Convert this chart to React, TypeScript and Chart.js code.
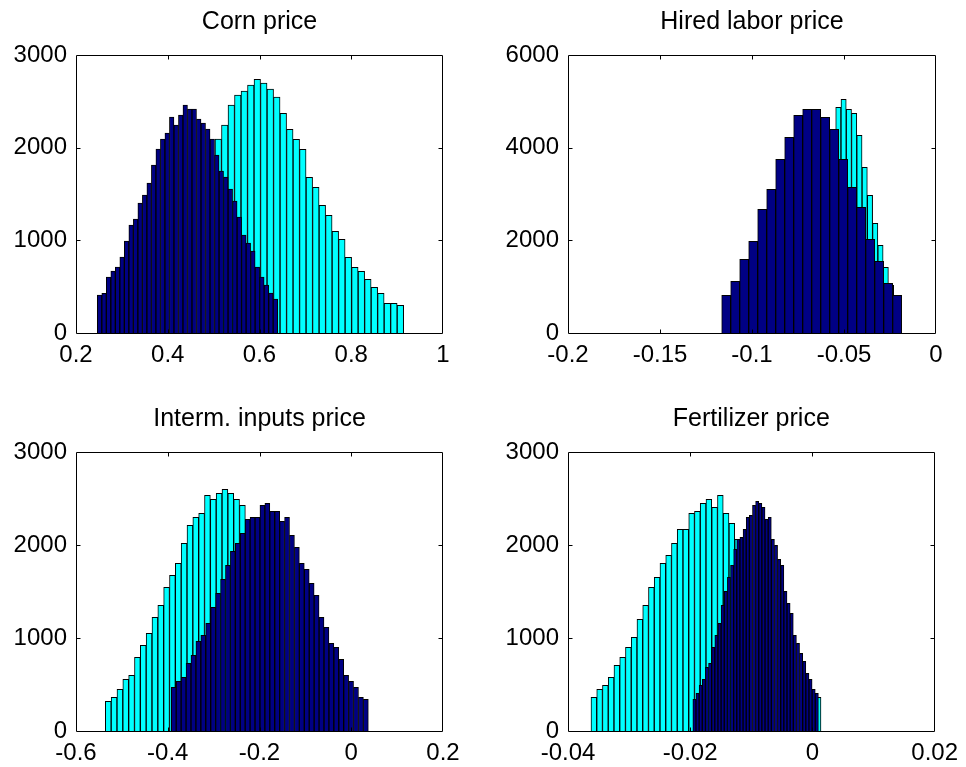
import React, { useEffect, useRef } from 'react';
import { Chart, registerables } from 'chart.js';

Chart.register(...registerables);

// ---------------- data (histogram bin counts) ----------------
const NAVY = '#000084';
const CYAN = '#00FFFF';

// Corn price
const cornXTicks = [0.2, 0.4, 0.6, 0.8, 1];
const cornYTicks = [0, 1000, 2000, 3000];
const cornNavyStart = 0.2464;
const cornNavyBin = 0.00983;
const cornNavyCounts = [410, 428, 604, 669, 712, 820, 993, 1165, 1230, 1403, 1489, 1619, 1813, 1986, 2094, 2158, 2331, 2245, 2352, 2460, 2417, 2417, 2309, 2266, 2201, 2094, 1921, 1748, 1683, 1554, 1424, 1252, 1058, 971, 885, 712, 604, 518, 432, 367];
const cornCyanStart = 0.503;
const cornCyanBin = 0.01418;
const cornCyanCounts = [2093, 2245, 2460, 2568, 2611, 2676, 2737, 2696, 2631, 2545, 2370, 2198, 2090, 1982, 1680, 1572, 1378, 1270, 1097, 1011, 816, 709, 665, 579, 493, 428, 320, 320, 299];

// Hired labor price
const laborXTicks = [-0.2, -0.15, -0.1, -0.05, 0];
const laborYTicks = [0, 2000, 4000, 6000];
const laborNavyStart = -0.11647;
const laborNavyBin = 0.00489;
const laborNavyCounts = [813, 1115, 1590, 1978, 2669, 3101, 3748, 4223, 4698, 4827, 4827, 4655, 4396, 3748, 3144, 2712, 2021, 1547, 1072, 813];
const laborCyanStart = -0.05451;
const laborCyanBin = 0.002864;
const laborCyanCounts = [4870, 5043, 4827, 4741, 4266, 3575, 2971, 2367, 1892, 1417, 1029];

// Interm. inputs price
const intermXTicks = [-0.6, -0.4, -0.2, 0, 0.2];
const intermYTicks = [0, 1000, 2000, 3000];
const intermNavyStart = -0.3923;
const intermNavyBin = 0.010738;
const intermNavyCounts = [470, 534, 577, 728, 814, 964, 1029, 1158, 1330, 1480, 1631, 1781, 1932, 2018, 2125, 2276, 2297, 2297, 2426, 2448, 2362, 2362, 2254, 2297, 2104, 1975, 1803, 1738, 1588, 1459, 1222, 1115, 943, 900, 771, 599, 534, 470, 362, 340];
const intermCyanStart = -0.5361;
const intermCyanBin = 0.01272;
const intermCyanCounts = [319, 362, 448, 556, 599, 792, 921, 1050, 1222, 1351, 1545, 1674, 1803, 2018, 2211, 2297, 2340, 2534, 2491, 2555, 2598, 2555, 2491, 2426];

// Fertilizer price
const fertXTicks = [-0.04, -0.02, 0, 0.02];
const fertYTicks = [0, 1000, 2000, 3000];
const fertNavyStart = -0.019569;
const fertNavyBin = 0.0005136;
const fertNavyCounts = [340, 405, 491, 556, 685, 728, 900, 1029, 1158, 1351, 1502, 1652, 1781, 1953, 2061, 2082, 2168, 2297, 2319, 2426, 2469, 2448, 2405, 2276, 2297, 2061, 1996, 1846, 1781, 1502, 1373, 1265, 1029, 943, 835, 749, 620, 556, 448, 405];
const fertCyanStart = -0.03624;
const fertCyanBin = 0.000941;
const fertCyanCounts = [362, 448, 491, 577, 706, 792, 900, 1007, 1201, 1351, 1545, 1652, 1803, 1889, 2018, 2168, 2168, 2340, 2362, 2448, 2491, 2405, 2534, 2340, 2233, 2061, null, null, null, null, null, null, null, null, null, null, null, null, null, 362];

// ---------------- layout ----------------
const FONT = "'Liberation Sans', Arial, Helvetica, sans-serif";
const Y_AXIS_W = 76;
const PAD_R = 30;
const TITLE_H = 55;
const X_AXIS_H = 42;

type Pt = { x: number; y: number | null };
const toBins = (start: number, width: number, counts: (number | null)[]): Pt[] =>
  counts.map((c, i) => ({ x: start + (i + 0.5) * width, y: c }));

type Panel = {
  title: string;
  xTicks: number[];
  yTicks: number[];
  navy: Pt[];
  cyan: Pt[];
  box: { left: number; top: number; right: number; bottom: number };
};

const panels: Panel[] = [
  { title: 'Corn price', xTicks: cornXTicks, yTicks: cornYTicks,
    navy: toBins(cornNavyStart, cornNavyBin, cornNavyCounts), cyan: toBins(cornCyanStart, cornCyanBin, cornCyanCounts),
    box: { left: 76, top: 55, right: 443, bottom: 333 } },
  { title: 'Hired labor price', xTicks: laborXTicks, yTicks: laborYTicks,
    navy: toBins(laborNavyStart, laborNavyBin, laborNavyCounts), cyan: toBins(laborCyanStart, laborCyanBin, laborCyanCounts),
    box: { left: 568, top: 55, right: 936, bottom: 333 } },
  { title: 'Interm. inputs price', xTicks: intermXTicks, yTicks: intermYTicks,
    navy: toBins(intermNavyStart, intermNavyBin, intermNavyCounts), cyan: toBins(intermCyanStart, intermCyanBin, intermCyanCounts),
    box: { left: 76, top: 452, right: 443, bottom: 731 } },
  { title: 'Fertilizer price', xTicks: fertXTicks, yTicks: fertYTicks,
    navy: toBins(fertNavyStart, fertNavyBin, fertNavyCounts), cyan: toBins(fertCyanStart, fertCyanBin, fertCyanCounts),
    box: { left: 568, top: 452, right: 936, bottom: 731 } },
];

const framePlugin = {
  id: 'matlabFrame',
  afterDatasetsDraw(chart: any) {
    const { ctx, chartArea: a, scales } = chart;
    const l = Math.round(a.left) + 0.5;
    const r = Math.round(a.right) - 0.5;
    const t = Math.round(a.top) + 0.5;
    const b = Math.round(a.bottom) + 0.5;
    const TL = 4;
    ctx.save();
    ctx.strokeStyle = '#000';
    ctx.lineWidth = 1;
    ctx.beginPath();
    for (const tk of scales.x.ticks) {
      const px = Math.round(scales.x.getPixelForValue(tk.value)) + 0.5;
      if (px <= l + 1 || px >= r - 1) continue;
      ctx.moveTo(px, b); ctx.lineTo(px, b - TL);
      ctx.moveTo(px, t); ctx.lineTo(px, t + TL);
    }
    for (const tk of scales.y.ticks) {
      const py = Math.round(scales.y.getPixelForValue(tk.value)) + 0.5;
      if (py <= t + 1 || py >= b - 1) continue;
      ctx.moveTo(l, py); ctx.lineTo(l + TL, py);
      ctx.moveTo(r, py); ctx.lineTo(r - TL, py);
    }
    ctx.rect(l, t, r - l, b - t);
    ctx.stroke();
    ctx.restore();
  },
};

function PanelChart({ p }: { p: Panel }) {
  const ref = useRef<HTMLCanvasElement | null>(null);
  useEffect(() => {
    if (!ref.current) return;
    const xMin = p.xTicks[0];
    const xMax = p.xTicks[p.xTicks.length - 1];
    const yMax = p.yTicks[p.yTicks.length - 1];
    const barCommon = {
      borderColor: '#000',
      borderWidth: 1,
      barPercentage: 1,
      categoryPercentage: 1,
      grouped: false,
    };
    const chart = new Chart(ref.current, {
      type: 'bar',
      data: {
        datasets: [
          { ...barCommon, label: 'navy', data: p.navy as any, xAxisID: 'x', yAxisID: 'y', backgroundColor: NAVY },
          { ...barCommon, label: 'cyan', data: p.cyan as any, xAxisID: 'x2', yAxisID: 'y', backgroundColor: CYAN },
        ],
      },
      options: {
        animation: false,
        responsive: true,
        maintainAspectRatio: false,
        layout: { padding: { left: 0, right: PAD_R, top: 0, bottom: 0 } },
        plugins: {
          legend: { display: false },
          tooltip: { enabled: false },
          title: {
            display: true,
            text: p.title,
            fullSize: false,
            color: '#000',
            font: { family: FONT, size: 25, weight: 'normal' as any, lineHeight: 1.2 },
            padding: { top: 7, bottom: TITLE_H - 7 - 30 },
          },
        },
        scales: {
          x: {
            type: 'linear',
            position: 'bottom',
            offset: false,
            min: xMin,
            max: xMax,
            grid: { display: false, drawTicks: false, offset: false },
            border: { display: false },
            afterBuildTicks: (s: any) => { s.ticks = p.xTicks.map((v) => ({ value: v })); },
            afterFit: (s: any) => { s.height = X_AXIS_H; },
            ticks: {
              color: '#000',
              font: { family: FONT, size: 24 },
              padding: 8,
              maxRotation: 0,
              autoSkip: false,
              callback: (v: any) => String(v),
            },
          },
          x2: { type: 'linear', position: 'bottom', offset: false, min: xMin, max: xMax, display: false, grid: { offset: false } },
          y: {
            type: 'linear',
            min: 0,
            max: yMax,
            grid: { display: false, drawTicks: false },
            border: { display: false },
            afterBuildTicks: (s: any) => { s.ticks = p.yTicks.map((v) => ({ value: v })); },
            afterFit: (s: any) => { s.width = Y_AXIS_W; },
            ticks: {
              color: '#000',
              font: { family: FONT, size: 24 },
              padding: 9,
              autoSkip: false,
              callback: (v: any) => String(v),
            },
          },
        },
      } as any,
      plugins: [framePlugin],
    });
    return () => chart.destroy();
  }, [p]);

  const left = p.box.left - Y_AXIS_W;
  const top = p.box.top - TITLE_H;
  const width = Y_AXIS_W + (p.box.right - p.box.left) + PAD_R;
  const height = TITLE_H + (p.box.bottom - p.box.top) + X_AXIS_H;
  return (
    <div style={{ position: 'absolute', left, top, width, height }}>
      <canvas ref={ref} style={{ display: 'block' }} />
    </div>
  );
}

export default function App() {
  return (
    <div style={{ position: 'absolute', left: 0, top: 0, width: 966, height: 767, overflow: 'hidden', background: '#fff' }}>
      {panels.map((p) => (
        <PanelChart key={p.title} p={p} />
      ))}
    </div>
  );
}
